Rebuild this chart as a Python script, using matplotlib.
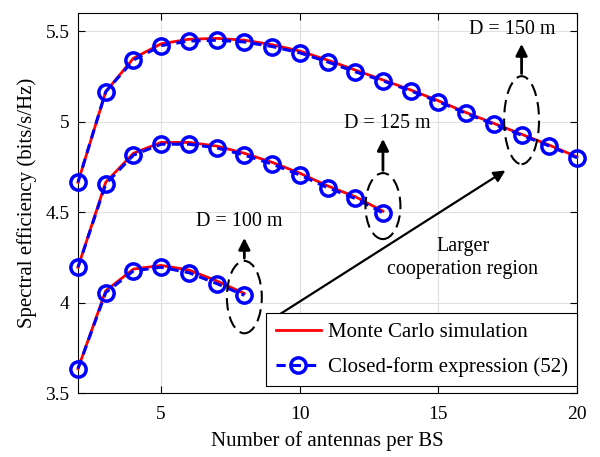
import numpy as np
import matplotlib
matplotlib.use("Agg")
import matplotlib.pyplot as plt
from matplotlib.patches import Ellipse

plt.rcParams['font.family'] = ['Liberation Serif', 'DejaVu Serif']

# Number of antennas per BS for each cooperation radius
ant_100 = [2, 3, 4, 5, 6, 7, 8]
ant_125 = list(range(2, 14))
ant_150 = list(range(2, 21))

# Closed-form expression (52)
cf_100 = [3.635, 4.055, 4.175, 4.195, 4.165, 4.105, 4.04]
cf_125 = [4.195, 4.655, 4.815, 4.875, 4.875, 4.855, 4.815, 4.765, 4.705, 4.635, 4.575, 4.495]
cf_150 = [4.665, 5.165, 5.34, 5.42, 5.445, 5.45, 5.44, 5.415, 5.38, 5.33, 5.275,
          5.225, 5.17, 5.11, 5.045, 4.985, 4.925, 4.865, 4.80]

# Monte Carlo simulation
mc_100 = [3.635, 4.065, 4.185, 4.205, 4.18, 4.12, 4.05]
mc_125 = [4.195, 4.665, 4.825, 4.885, 4.885, 4.865, 4.825, 4.775, 4.715, 4.645, 4.585, 4.505]
mc_150 = [4.665, 5.165, 5.35, 5.43, 5.455, 5.46, 5.45, 5.425, 5.39, 5.34, 5.285,
          5.23, 5.175, 5.115, 5.05, 4.99, 4.93, 4.87, 4.805]

fig = plt.figure(figsize=(6, 4.57), dpi=100)
ax = fig.add_axes([0.13, 0.14, 0.8317, 0.8315])

for x, mc, cf in [(ant_100, mc_100, cf_100), (ant_125, mc_125, cf_125), (ant_150, mc_150, cf_150)]:
    ax.plot(x, mc, color="red", lw=2, zorder=3, clip_on=False)
    ax.plot(x, cf, color="blue", lw=2.2, ls=(0, (3, 2)), marker="o", ms=11,
            mfc="none", mec="blue", mew=2.5, zorder=4, clip_on=False)

# Legend proxies
h_mc, = ax.plot([], [], color="red", lw=2, label="Monte Carlo simulation")
h_cf, = ax.plot([], [], color="blue", lw=2.2, ls=(0, (3, 2)), marker="o", ms=11,
                mfc="none", mec="blue", mew=2.5, label="Closed-form expression (52)")

# Ellipses, arrows and labels
for cx, cy, h, ay0, ay1, label, tx, ty in [(8, 4.03, 0.40, 4.23, 4.373, "D = 100 m", 7.82, 4.45),
                                            (13, 4.533, 0.365, 4.715, 4.92, "D = 125 m", 13.17, 4.99),
                                            (18, 5.008, 0.486, 5.25, 5.445, "D = 150 m", 17.65, 5.51)]:
    ax.add_patch(Ellipse((cx, cy), 1.26, h, fill=False, ls=(0, (6, 3)), lw=1.5,
                         ec="black", zorder=5))
    ax.annotate("", xy=(cx, ay1), xytext=(cx, ay0),
                arrowprops=dict(arrowstyle="-|>", color="black", lw=2, mutation_scale=17))
    ax.text(tx, ty, label, ha="center", va="center", fontsize=14.5)

ax.annotate("", xy=(17.5, 4.738), xytext=(9.01, 3.909),
            arrowprops=dict(arrowstyle="-|>", color="black", lw=1.6, mutation_scale=17))
ax.text(15.88, 4.246, "Larger\ncooperation region", ha="center", va="center",
        fontsize=14.5, linespacing=1.25)

ax.set_xlim(2, 20)
ax.set_ylim(3.5, 5.6)
ax.set_xticks([5, 10, 15, 20])
ax.set_yticks([3.5, 4, 4.5, 5, 5.5])
ax.set_yticklabels(["3.5", "4", "4.5", "5", "5.5"])
ax.tick_params(direction="in", top=True, right=True, labelsize=14, length=5)
ax.tick_params(axis="x", pad=9)
ax.tick_params(axis="y", pad=6)
ax.grid(True, color="#e0e0e0", lw=0.8)
ax.set_axisbelow(True)
ax.set_xlabel("Number of antennas per BS", fontsize=15, labelpad=6)
ax.set_ylabel("Spectral efficiency (bits/s/Hz)", fontsize=15, labelpad=6)

leg = ax.legend(handles=[h_mc, h_cf], loc="lower right", bbox_to_anchor=(1.0, 0.018),
                fontsize=15, fancybox=False, edgecolor="black", framealpha=1,
                handlelength=2.2, handletextpad=0.3, labelspacing=0.7,
                borderaxespad=0.0, borderpad=0.45)
leg.get_frame().set_linewidth(0.8)
leg.set_zorder(10)

fig.savefig("out.png", dpi=100)
